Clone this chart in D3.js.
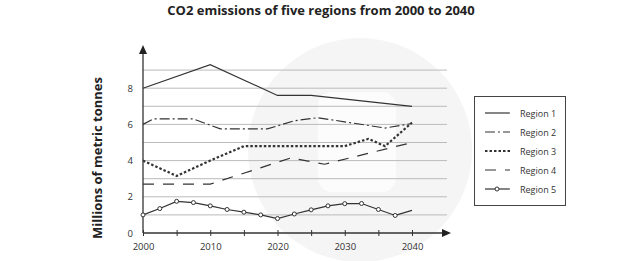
<html>
<head>
<script src="https://cdn.jsdelivr.net/npm/d3@7"></script>
<style>
  body { margin: 0; background: #fff; font-family: "Open Sans", sans-serif; }
</style>
</head>
<body>
<script>
// data, [year, millions of tonnes]
var region1 = [[2000, 8.0], [2010, 9.3], [2020, 7.6], [2025, 7.6], [2040, 7.0]];
var region2 = [[2000, 6.0], [2001.5, 6.3], [2007.5, 6.3], [2011.5, 5.75], [2018.5, 5.75],
               [2022.5, 6.2], [2026, 6.37], [2036, 5.8], [2040, 6.05]];
var region3 = [[2000, 4.0], [2005, 3.15], [2010, 4.0], [2015, 4.8], [2030, 4.8],
               [2033.5, 5.2], [2036, 4.8], [2040, 6.1]];
var region4 = [[2000, 2.7], [2010, 2.7], [2022, 4.15], [2027, 3.8], [2040, 5.0]];
var region5Years = d3.range(2000, 2040.1, 2.5);
var region5Vals = [1.0, 1.35, 1.75, 1.68, 1.5, 1.3, 1.15, 1.0, 0.8, 1.05, 1.28, 1.5, 1.62, 1.63, 1.3, 0.97, 1.25];
var region5 = region5Years.map(function(y, i) { return [y, region5Vals[i]]; });

var names = ["Region 1", "Region 2", "Region 3", "Region 4", "Region 5"];
var xTicks = [2000, 2010, 2020, 2030, 2040];
var yTicks = [0, 2, 4, 6, 8];
var gridVals = [1, 2, 3, 4, 5, 6, 7, 8, 9];

var width = 620, height = 261;
var svg = d3.select("body").append("svg")
    .attr("width", width).attr("height", height);

// faint watermark behind the plot
svg.append("circle").attr("cx", 360).attr("cy", 150).attr("r", 112).attr("fill", "#f5f5f5");
svg.append("rect").attr("x", 318).attr("y", 92).attr("width", 78).attr("height", 100)
    .attr("rx", 14).attr("fill", "#fcfcfc");

var x = d3.scaleLinear().domain([2000, 2040]).range([143, 412]);
var y = d3.scaleLinear().domain([0, 10]).range([233, 52]);

svg.append("text").attr("x", 321).attr("y", 15).attr("text-anchor", "middle")
    .attr("font-size", 13).attr("font-weight", "bold").attr("fill", "#222")
    .text("CO2 emissions of five regions from 2000 to 2040");

svg.append("text").attr("transform", "translate(102,158) rotate(-90)")
    .attr("text-anchor", "middle").attr("font-size", 13).attr("font-weight", "bold")
    .attr("fill", "#222").text("Millions of metric tonnes");

// gridlines
svg.selectAll(".grid").data(gridVals).enter().append("line")
    .attr("x1", 143).attr("x2", 447)
    .attr("y1", function(d) { return y(d); }).attr("y2", function(d) { return y(d); })
    .attr("stroke", "#bbb").attr("stroke-width", 1);

// y axis
var yAxis = svg.append("g").attr("transform", "translate(143,0)")
    .call(d3.axisLeft(y).tickValues(yTicks).tickSize(0).tickPadding(10));
yAxis.select(".domain").remove();
yAxis.selectAll("text").attr("font-size", 9.5).attr("fill", "#333")
    .attr("font-family", "Open Sans, sans-serif");
svg.append("line").attr("x1", 143).attr("x2", 143).attr("y1", 233).attr("y2", 52)
    .attr("stroke", "#333").attr("stroke-width", 1.3);
svg.append("path").attr("d", "M143,45 L139,54 L147,54 Z").attr("fill", "#222");

// x axis
var xAxis = svg.append("g").attr("transform", "translate(0,233)")
    .call(d3.axisBottom(x).tickValues(d3.range(2000, 2041, 5)).tickSize(3).tickPadding(7)
        .tickFormat(function(d) { return xTicks.indexOf(d) >= 0 ? d : ""; }));
xAxis.select(".domain").remove();
xAxis.selectAll("line").attr("stroke", "#333").attr("y1", -3).attr("y2", 3);
xAxis.selectAll("text").attr("font-size", 9.5).attr("fill", "#333")
    .attr("font-family", "Open Sans, sans-serif");
svg.append("line").attr("x1", 143).attr("x2", 444).attr("y1", 233).attr("y2", 233)
    .attr("stroke", "#333").attr("stroke-width", 1.3);
svg.append("path").attr("d", "M451,233 L442,229 L442,237 Z").attr("fill", "#222");

var line = d3.line().x(function(d) { return x(d[0]); }).y(function(d) { return y(d[1]); });

var styles = [
  { dash: null, w: 1.2 },
  { dash: "10,3,2,3", w: 1.2 },
  { dash: "2.5,2", w: 2.2 },
  { dash: "11,9", w: 1.2 },
  { dash: null, w: 1.2 }
];
var series = [region1, region2, region3, region4, region5];

series.forEach(function(s, i) {
  svg.append("path").attr("d", line(s)).attr("fill", "none")
      .attr("stroke", "#333").attr("stroke-width", styles[i].w)
      .attr("stroke-dasharray", styles[i].dash);
});

svg.selectAll(".mk").data(region5.slice(0, -1)).enter().append("circle")
    .attr("cx", function(d) { return x(d[0]); }).attr("cy", function(d) { return y(d[1]); })
    .attr("r", 2).attr("fill", "#fff").attr("stroke", "#333").attr("stroke-width", 1);

// legend
var lg = svg.append("g");
lg.append("rect").attr("x", 474.5).attr("y", 96.5).attr("width", 91).attr("height", 109)
    .attr("fill", "#fff").attr("stroke", "#444").attr("stroke-width", 1);
names.forEach(function(n, i) {
  var ly = 113 + i * 19;
  lg.append("line").attr("x1", 485).attr("x2", 510).attr("y1", ly).attr("y2", ly)
      .attr("stroke", "#333").attr("stroke-width", styles[i].w)
      .attr("stroke-dasharray", styles[i].dash);
  if (i === 4) {
    lg.append("circle").attr("cx", 497).attr("cy", ly).attr("r", 2)
        .attr("fill", "#fff").attr("stroke", "#333");
  }
  lg.append("text").attr("x", 520).attr("y", ly + 3.5).attr("font-size", 9)
      .attr("fill", "#333").text(n);
});
</script>
</body>
</html>
